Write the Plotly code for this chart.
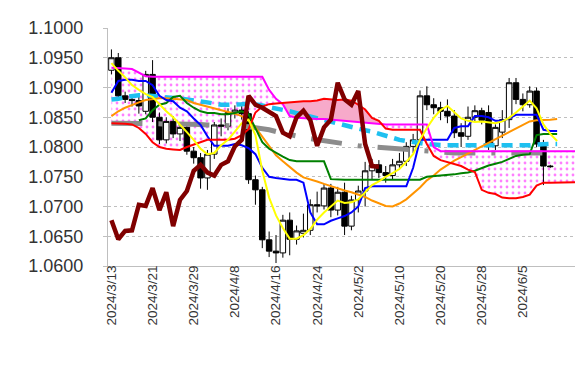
import numpy as np
import plotly.graph_objects as go

DATES = ["2024/3/13","2024/3/14","2024/3/15","2024/3/18","2024/3/19","2024/3/20","2024/3/21","2024/3/22","2024/3/25","2024/3/26",
         "2024/3/27","2024/3/28","2024/3/29","2024/4/1","2024/4/2","2024/4/3","2024/4/4","2024/4/5","2024/4/8","2024/4/9",
         "2024/4/10","2024/4/11","2024/4/12","2024/4/15","2024/4/16","2024/4/17","2024/4/18","2024/4/19","2024/4/22","2024/4/23",
         "2024/4/24","2024/4/25","2024/4/26","2024/4/29","2024/4/30","2024/5/1","2024/5/2","2024/5/3","2024/5/6","2024/5/7",
         "2024/5/8","2024/5/9","2024/5/10","2024/5/13","2024/5/14","2024/5/15","2024/5/16","2024/5/17","2024/5/20","2024/5/21",
         "2024/5/22","2024/5/23","2024/5/24","2024/5/27","2024/5/28","2024/5/29","2024/5/30","2024/5/31","2024/6/3","2024/6/4",
         "2024/6/5","2024/6/6","2024/6/7","2024/6/10","2024/6/11","2024/6/12","2024/6/13","2024/6/14","2024/6/17","2024/6/18"]
TICK_LABELS = ["2024/3/13","2024/3/21","2024/3/29","2024/4/8","2024/4/16","2024/4/24",
               "2024/5/2","2024/5/10","2024/5/20","2024/5/28","2024/6/5"]
Y_TICKS = [1.06, 1.065, 1.07, 1.075, 1.08, 1.085, 1.09, 1.095, 1.10]

OPEN = [1.0929,1.0950,1.0886,1.0880,1.0878,1.0860,1.0922,1.0850,1.0812,1.0843,
        1.0822,1.0833,1.0793,1.0782,1.0748,1.0788,1.0837,1.0835,1.0858,1.0862,
        1.0856,1.0745,1.0728,1.0644,1.0625,1.0622,1.0677,1.0645,1.0655,1.0660,
        1.0703,1.0701,1.0731,1.0694,1.0724,1.0667,1.0711,1.0726,1.0760,1.0770,
        1.0757,1.0752,1.0770,1.0776,1.0801,1.0812,1.0886,1.0871,1.0866,1.0860,
        1.0852,1.0824,1.0818,1.0850,1.0861,1.0858,1.0802,1.0825,1.0846,1.0908,
        1.0880,1.0871,1.0894,1.0805,1.0768]
HIGH = [1.0964,1.0958,1.0893,1.0888,1.0884,1.0928,1.0946,1.0858,1.0850,1.0852,
        1.0840,1.0838,1.0800,1.0790,1.0795,1.0842,1.0848,1.0865,1.0870,1.0872,
        1.0860,1.0752,1.0733,1.0658,1.0652,1.0686,1.0690,1.0668,1.0688,1.0712,
        1.0725,1.0738,1.0738,1.0733,1.0740,1.0718,1.0735,1.0775,1.0780,1.0778,
        1.0768,1.0780,1.0790,1.0808,1.0822,1.0895,1.0902,1.0882,1.0876,1.0880,
        1.0862,1.0840,1.0868,1.0870,1.0866,1.0870,1.0838,1.0862,1.0916,1.0916,
        1.0890,1.0902,1.0900,1.0812,1.0770]
LOW = [1.0922,1.0882,1.0874,1.0868,1.0856,1.0855,1.0842,1.0805,1.0806,1.0815,
       1.0810,1.0787,1.0772,1.0730,1.0728,1.0780,1.0818,1.0828,1.0848,1.0846,
       1.0738,1.0703,1.0630,1.0615,1.0605,1.0614,1.0618,1.0636,1.0648,1.0652,
       1.0690,1.0695,1.0682,1.0685,1.0652,1.0660,1.0690,1.0700,1.0745,1.0748,
       1.0740,1.0745,1.0765,1.0768,1.0790,1.0805,1.0862,1.0855,1.0845,1.0840,
       1.0815,1.0800,1.0812,1.0842,1.0838,1.0795,1.0795,1.0815,1.0832,1.0872,
       1.0860,1.0866,1.0800,1.0736,1.0765]
CLOSE = [1.0950,1.0886,1.0880,1.0878,1.0869,1.0922,1.0850,1.0812,1.0843,1.0822,
         1.0833,1.0793,1.0782,1.0748,1.0788,1.0837,1.0835,1.0858,1.0862,1.0856,
         1.0745,1.0728,1.0644,1.0625,1.0622,1.0677,1.0645,1.0659,1.0660,1.0703,
         1.0701,1.0731,1.0694,1.0724,1.0667,1.0711,1.0726,1.0760,1.0770,1.0757,
         1.0752,1.0770,1.0776,1.0801,1.0812,1.0886,1.0871,1.0866,1.0860,1.0852,
         1.0824,1.0818,1.0850,1.0861,1.0845,1.0802,1.0833,1.0846,1.0908,1.0880,
         1.0871,1.0894,1.0805,1.0768,1.0767]

# conversion line (blue), idx 0..65
TENKAN = [1.0891,1.0911,1.0913,1.0913,1.0911,1.0911,1.0904,1.0886,1.0879,1.0877,
          1.0866,1.0860,1.0848,1.0837,1.0818,1.0802,1.0802,1.0802,1.0805,1.0803,
          1.0798,1.0788,1.0765,1.0750,1.0748,1.0746,1.0745,1.0745,1.0740,1.0690,
          1.0670,1.0670,1.0676,1.0680,1.0684,1.0690,1.0700,1.0731,1.0734,1.0734,
          1.0734,1.0734,1.0734,1.0734,1.0765,1.0812,1.0812,1.0812,1.0812,1.0812,
          1.0832,1.0835,1.0835,1.0852,1.0852,1.0850,1.0844,1.0844,1.0848,1.0854,
          1.0854,1.0854,1.0854,1.0829,1.0827,1.0827]
# base line (green), idx 4..65
KIJUN = [1.0845,1.0848,1.0862,1.0871,1.0874,1.0884,1.0886,1.0874,1.0866,1.0860,
         1.0857,1.0857,1.0855,1.0855,1.0857,1.0860,1.0855,1.0830,1.0808,1.0797,
         1.0790,1.0784,1.0778,1.0776,1.0776,1.0776,1.0776,1.0776,1.0746,1.0745,
         1.0745,1.0745,1.0745,1.0745,1.0745,1.0745,1.0745,1.0745,1.0745,1.0745,
         1.0745,1.0745,1.0750,1.0751,1.0751,1.0752,1.0754,1.0756,1.0757,1.0760,
         1.0765,1.0769,1.0772,1.0775,1.0780,1.0785,1.0787,1.0788,1.0820,1.0822,
         1.0822,1.0822]
# short moving average (yellow), idx 0..65
MA_SHORT = [1.0941,1.0928,1.0917,1.0904,1.0896,1.0889,1.0884,1.0872,1.0860,1.0850,
            1.0838,1.0825,1.0812,1.0797,1.0788,1.0790,1.0803,1.0812,1.0826,1.0840,
            1.0846,1.0820,1.0760,1.0715,1.0685,1.0664,1.0646,1.0646,1.0652,1.0662,
            1.0678,1.0690,1.0700,1.0710,1.0706,1.0707,1.0712,1.0724,1.0736,1.0742,
            1.0750,1.0756,1.0763,1.0775,1.0788,1.0812,1.0832,1.0849,1.0862,1.0869,
            1.0858,1.0848,1.0844,1.0842,1.0843,1.0841,1.0840,1.0843,1.0849,1.0858,
            1.0868,1.0878,1.0865,1.0838,1.0822,1.0810]
# medium moving average (orange), idx 0..65
MA_MID = [1.0852,1.0860,1.0866,1.0871,1.0875,1.0879,1.0881,1.0882,1.0882,1.0881,
          1.0880,1.0879,1.0874,1.0871,1.0868,1.0865,1.0862,1.0860,1.0856,1.0852,
          1.0845,1.0833,1.0818,1.0803,1.0786,1.0776,1.0766,1.0757,1.0749,1.0746,
          1.0742,1.0738,1.0734,1.0730,1.0727,1.0724,1.0720,1.0716,1.0710,1.0705,
          1.0701,1.0700,1.0705,1.0712,1.0722,1.0732,1.0744,1.0752,1.0762,1.0770,
          1.0777,1.0783,1.0789,1.0795,1.0801,1.0808,1.0814,1.0820,1.0826,1.0832,
          1.0838,1.0843,1.0845,1.0845,1.0846,1.0847]
# long moving average (cyan dashed), idx 0..65
MA_LONG = [1.0880,1.0881,1.0884,1.0886,1.0887,1.0887,1.0886,1.0885,1.0884,1.0883,
           1.0882,1.0880,1.0878,1.0877,1.0875,1.0873,1.0871,1.0871,1.0871,1.0872,
           1.0873,1.0872,1.0870,1.0867,1.0865,1.0862,1.0860,1.0857,1.0854,1.0851,
           1.0848,1.0845,1.0843,1.0840,1.0836,1.0833,1.0830,1.0828,1.0826,1.0822,
           1.0818,1.0815,1.0812,1.0810,1.0808,1.0806,1.0805,1.0804,1.0803,1.0803,
           1.0803,1.0803,1.0802,1.0802,1.0802,1.0802,1.0802,1.0802,1.0802,1.0802,
           1.0803,1.0803,1.0804,1.0805,1.0805,1.0805]
# very long moving average (gray dash-dot), idx 0..65
MA_XLONG = [1.0840,1.0840,1.0840,1.0840,1.0840,1.0840,1.0840,1.0839,1.0839,1.0839,
            1.0838,1.0838,1.0838,1.0838,1.0837,1.0837,1.0836,1.0836,1.0835,1.0835,
            1.0834,1.0833,1.0831,1.0829,1.0826,1.0823,1.0820,1.0818,1.0816,1.0814,
            1.0812,1.0810,1.0808,1.0806,1.0804,1.0803,1.0802,1.0801,1.0800,1.0799,
            1.0798,1.0797,1.0796,1.0795,1.0794,1.0793,1.0792,1.0792,1.0791,1.0791,
            1.0790,1.0790,1.0790,1.0790,1.0790,1.0790,1.0790,1.0790,1.0790,1.0790,
            1.0790,1.0790,1.0790,1.0790,1.0790,1.0790]
# leading span A (red), idx 0..69
SPAN_A = [1.0840,1.0840,1.0839,1.0838,1.0832,1.0822,1.0808,1.0800,1.0797,1.0796,
          1.0795,1.0800,1.0804,1.0808,1.0812,1.0812,1.0812,1.0812,1.0814,1.0820,
          1.0830,1.0858,1.0868,1.0872,1.0873,1.0874,1.0875,1.0877,1.0877,1.0877,
          1.0878,1.0881,1.0880,1.0879,1.0880,1.0878,1.0871,1.0863,1.0849,1.0844,
          1.0831,1.0829,1.0829,1.0829,1.0829,1.0829,1.0805,1.0785,1.0778,1.0775,
          1.0772,1.0768,1.0762,1.0758,1.0728,1.0723,1.0721,1.0715,1.0714,1.0714,
          1.0716,1.0720,1.0735,1.0740,1.0740,1.0740,1.0740,1.0740,1.0741,1.0750]
# leading span B (magenta), idx 0..69
SPAN_B = [1.0933,1.0933,1.0932,1.0931,1.0925,1.0919,1.0918,1.0918,1.0918,1.0918,
          1.0918,1.0918,1.0918,1.0918,1.0918,1.0918,1.0918,1.0918,1.0918,1.0918,
          1.0918,1.0918,1.0918,1.0896,1.0881,1.0872,1.0852,1.0849,1.0848,1.0847,
          1.0847,1.0847,1.0846,1.0845,1.0843,1.0842,1.0841,1.0840,1.0839,1.0838,
          1.0838,1.0838,1.0838,1.0838,1.0838,1.0838,1.0838,1.0800,1.0793,1.0793,
          1.0793,1.0793,1.0793,1.0793,1.0793,1.0793,1.0793,1.0793,1.0793,1.0793,
          1.0793,1.0793,1.0793,1.0793,1.0793,1.0793,1.0793,1.0793,1.0793,1.0793]
# lagging span (dark red), idx 0..39
CHIKOU = [1.0677,1.0645,1.0659,1.0660,1.0703,1.0701,1.0731,1.0694,1.0724,1.0667,
          1.0711,1.0726,1.0760,1.0770,1.0757,1.0752,1.0770,1.0776,1.0801,1.0812,
          1.0886,1.0871,1.0866,1.0860,1.0852,1.0824,1.0818,1.0850,1.0861,1.0845,
          1.0802,1.0833,1.0846,1.0908,1.0880,1.0871,1.0894,1.0805,1.0768,1.0767]

a = np.array(SPAN_A)
b = np.array(SPAN_B)
xc = DATES[:len(SPAN_A)]

fig = go.Figure()
# ---- cloud fills on the base axis (drawn underneath) ----
fig.add_trace(go.Scatter(x=xc, y=a, mode="lines", line=dict(width=0), hoverinfo="skip", yaxis="y"))
fig.add_trace(go.Scatter(x=xc, y=np.maximum(a, b), mode="lines", line=dict(width=0), fill="tonexty",
                         fillcolor="white",
                         fillpattern=dict(shape=".", fgcolor="#FF00FF", bgcolor="white", size=6, solidity=0.17),
                         hoverinfo="skip", yaxis="y"))
fig.add_trace(go.Scatter(x=xc, y=b, mode="lines", line=dict(width=0), hoverinfo="skip", yaxis="y"))
fig.add_trace(go.Scatter(x=xc, y=np.maximum(a, b), mode="lines", line=dict(width=0), fill="tonexty",
                         fillcolor="#F7AACA", hoverinfo="skip", yaxis="y"))

# ---- candles and lines on the overlay axis (drawn on top) ----
fig.add_trace(go.Candlestick(
    x=DATES[:len(CLOSE)], open=OPEN, high=HIGH, low=LOW, close=CLOSE,
    increasing=dict(line=dict(color="black", width=1), fillcolor="white"),
    decreasing=dict(line=dict(color="black", width=1), fillcolor="black"),
    whiskerwidth=0, yaxis="y2",
))

n = len(MA_SHORT)
fig.add_trace(go.Scatter(x=DATES[:n], y=MA_XLONG, mode="lines", yaxis="y2",
                         line=dict(color="#8C8C8C", width=5, dash="31px,16px,4px,16px")))
fig.add_trace(go.Scatter(x=DATES[:n], y=MA_LONG, mode="lines", yaxis="y2",
                         line=dict(color="#1EC0F0", width=4.5, dash="11px,7px")))
fig.add_trace(go.Scatter(x=DATES[:n], y=MA_MID, mode="lines", yaxis="y2", line=dict(color="#FF9400", width=2)))
fig.add_trace(go.Scatter(x=DATES[4:4 + len(KIJUN)], y=KIJUN, mode="lines", yaxis="y2", line=dict(color="#008000", width=2)))
fig.add_trace(go.Scatter(x=DATES[:n], y=TENKAN, mode="lines", yaxis="y2", line=dict(color="#0000FF", width=2)))
fig.add_trace(go.Scatter(x=xc, y=SPAN_B, mode="lines", yaxis="y2", line=dict(color="#FF00FF", width=2)))
fig.add_trace(go.Scatter(x=xc, y=SPAN_A, mode="lines", yaxis="y2", line=dict(color="#FF0000", width=2)))
fig.add_trace(go.Scatter(x=DATES[:n], y=MA_SHORT, mode="lines", yaxis="y2", line=dict(color="#FFFF00", width=2)))
fig.add_trace(go.Scatter(x=DATES[:len(CHIKOU)], y=CHIKOU, mode="lines", yaxis="y2", line=dict(color="#800000", width=4.5)))

fig.update_layout(
    width=583, height=370,
    margin=dict(l=100, r=3, t=20, b=112),
    paper_bgcolor="white", plot_bgcolor="white",
    showlegend=False,
    boxgap=0.2, boxgroupgap=0,
    font=dict(family="Liberation Sans, Arial, sans-serif", color="#333333"),
    yaxis2=dict(overlaying="y", range=[1.06, 1.10], visible=False, showgrid=False, zeroline=False, fixedrange=True),
)
fig.update_xaxes(
    type="category", categoryorder="array", categoryarray=DATES,
    range=[-0.5, len(DATES) - 0.5],
    tickmode="array", tickvals=TICK_LABELS, ticktext=TICK_LABELS,
    tickangle=-90, tickfont=dict(size=13.5),
    showgrid=False, showline=True, linecolor="#BFBFBF", linewidth=1,
    ticks="", ticklabelstandoff=-7, rangeslider=dict(visible=False), fixedrange=True,
)
fig.update_layout(yaxis=dict(
    range=[1.06, 1.10], tickmode="array", tickvals=Y_TICKS, tickformat=".4f",
    tickfont=dict(size=18),
    showgrid=True, gridcolor="#BFBFBF", griddash="dot", gridwidth=1,
    showline=True, linecolor="#BFBFBF", linewidth=1,
    ticks="outside", ticklen=4, tickcolor="#BFBFBF",
    ticklabelstandoff=16, zeroline=False, fixedrange=True,
))

fig.write_html("out.html")
